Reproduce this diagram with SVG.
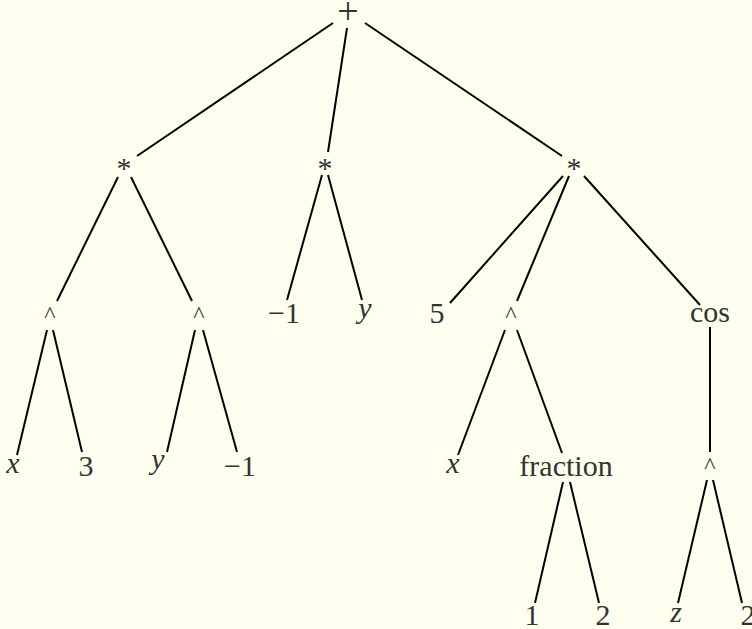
<svg xmlns="http://www.w3.org/2000/svg" width="752" height="629" viewBox="0 0 752 629">
<style>
text{font-family:"Liberation Serif","Times New Roman",serif;font-size:30px;fill:#333;text-anchor:middle}
.v{font-style:italic}
.op{font-size:30px}
.hat{font-size:24px}
.plus{font-size:38px}
#edges line{stroke:#000;stroke-width:2;stroke-linecap:butt}
</style>
<rect width="752" height="629" fill="#fffff0"/>
<g id="edges">
<line x1="333" y1="23" x2="137" y2="156"/>
<line x1="347" y1="28" x2="328" y2="152"/>
<line x1="365" y1="23" x2="562" y2="156"/>
<line x1="118" y1="177" x2="57" y2="301"/>
<line x1="131" y1="177" x2="192" y2="301"/>
<line x1="322" y1="175" x2="287" y2="300"/>
<line x1="328" y1="175" x2="362" y2="300"/>
<line x1="563" y1="176" x2="450" y2="303"/>
<line x1="569" y1="176" x2="517" y2="301"/>
<line x1="584" y1="176" x2="700" y2="305"/>
<line x1="47" y1="330" x2="17" y2="455"/>
<line x1="53" y1="330" x2="82" y2="452"/>
<line x1="195" y1="330" x2="167" y2="452"/>
<line x1="203" y1="330" x2="237" y2="452"/>
<line x1="505" y1="330" x2="458" y2="455"/>
<line x1="517" y1="330" x2="562" y2="453"/>
<line x1="710" y1="327" x2="710" y2="452"/>
<line x1="563" y1="482" x2="535" y2="603"/>
<line x1="570" y1="482" x2="599" y2="603"/>
<line x1="707" y1="480" x2="678" y2="603"/>
<line x1="713" y1="480" x2="742" y2="603"/>
</g>
<g id="n-root"><text class="plus" x="348" y="24">+</text></g>
<g id="n-mul1"><text class="op" x="124" y="178">*</text></g>
<g id="n-mul2"><text class="op" x="325" y="178">*</text></g>
<g id="n-mul3"><text class="op" x="574" y="178">*</text></g>
<g id="n-pow1"><text class="hat" x="50" y="322">^</text></g>
<g id="n-pow2"><text class="hat" x="199" y="322">^</text></g>
<g id="n-neg1a"><text x="284" y="323">−1</text></g>
<g id="n-y1"><text class="v" x="365" y="318">y</text></g>
<g id="n-5"><text x="437" y="323">5</text></g>
<g id="n-pow3"><text class="hat" x="511" y="322">^</text></g>
<g id="n-cos"><text x="710" y="322">cos</text></g>
<g id="n-x1"><text class="v" x="13" y="473">x</text></g>
<g id="n-3"><text x="86" y="476">3</text></g>
<g id="n-y2"><text class="v" x="158" y="469">y</text></g>
<g id="n-neg1b"><text x="240" y="476">−1</text></g>
<g id="n-x2"><text class="v" x="453" y="473">x</text></g>
<g id="n-fraction"><text x="566" y="476">fraction</text></g>
<g id="n-pow4"><text class="hat" x="710" y="473">^</text></g>
<g id="n-1"><text x="532" y="625">1</text></g>
<g id="n-2a"><text x="603" y="625">2</text></g>
<g id="n-z"><text class="v" x="676" y="622">z</text></g>
<g id="n-2b"><text x="748" y="625">2</text></g>
</svg>
